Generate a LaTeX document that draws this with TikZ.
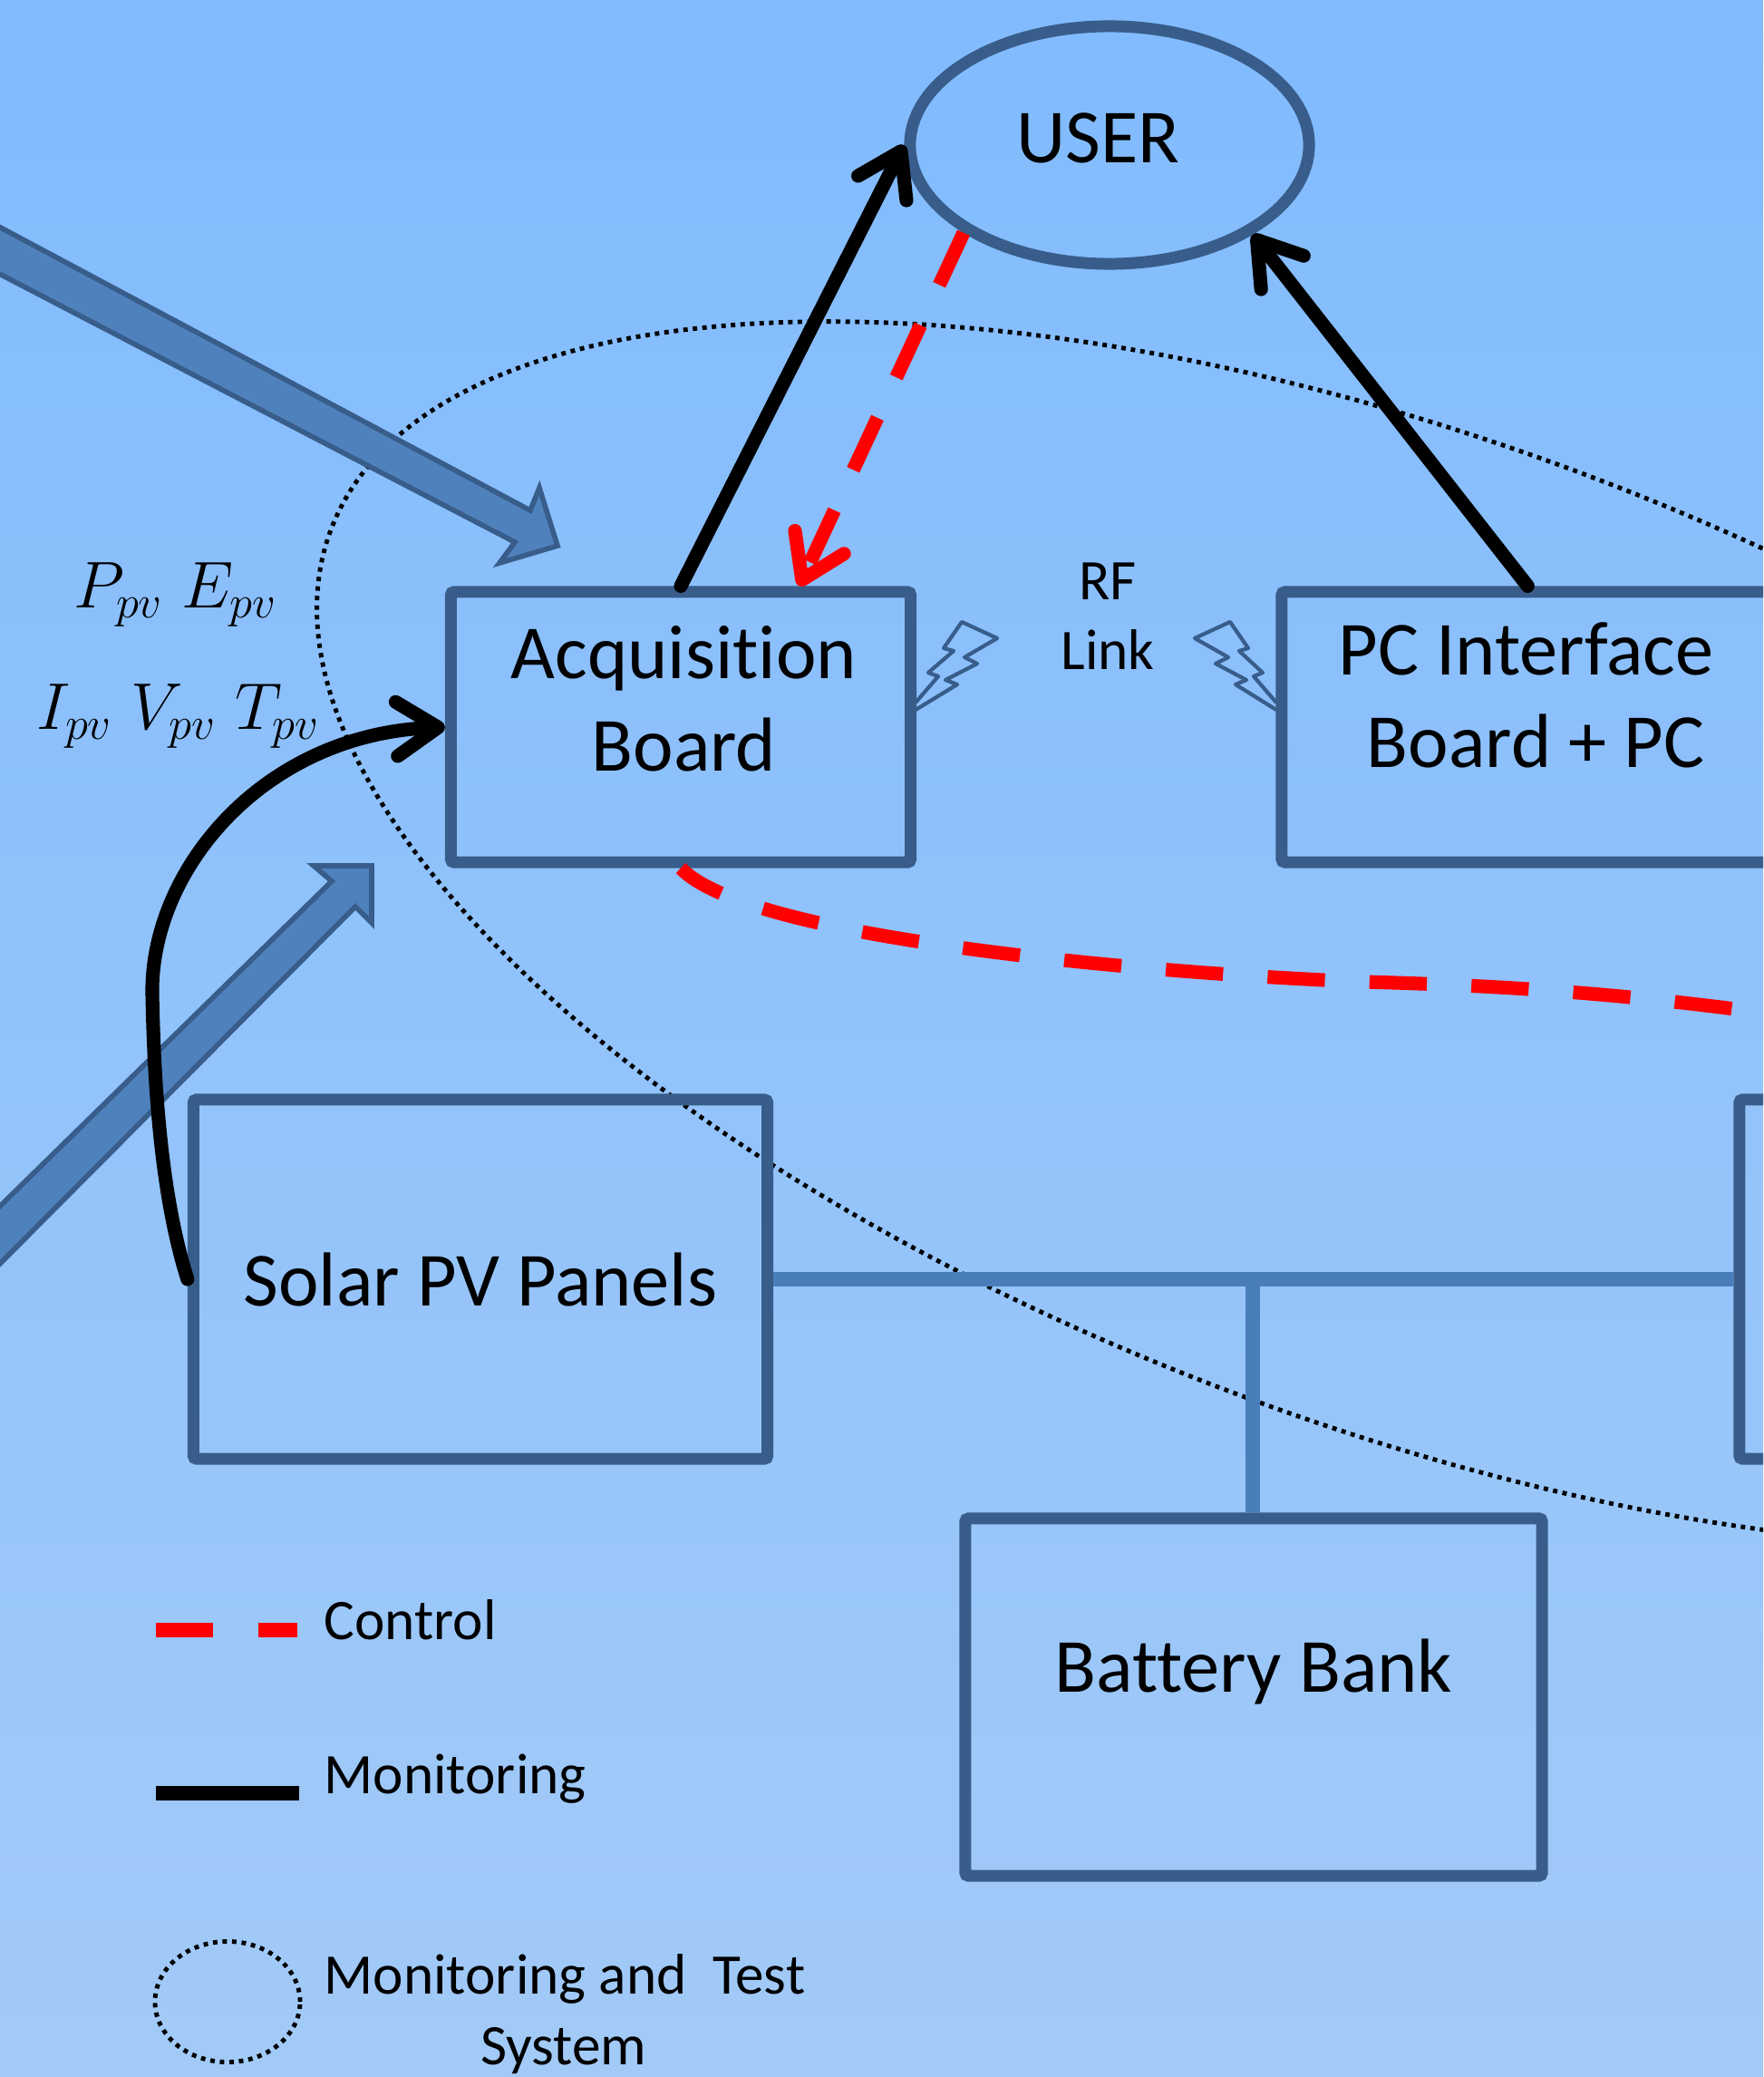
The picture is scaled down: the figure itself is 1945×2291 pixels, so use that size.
\documentclass[tikz,border=0pt]{standalone}
\usepackage{fontspec}
\setmainfont[Ligatures=NoCommon]{Carlito}
\usetikzlibrary{arrows.meta,shapes.geometric}
\definecolor{boxline}{HTML}{385D8A}
\definecolor{boxfill}{HTML}{4F81BD}
\definecolor{feedline}{HTML}{4A7EBB}
\definecolor{bgtop}{HTML}{81BBFE}
\definecolor{bgmid}{HTML}{85BDFD}
\definecolor{bgbottom}{HTML}{A2CAF7}
\begin{document}
\begin{tikzpicture}[x=0.01cm,y=-0.01cm,>={Straight Barb[length=13pt,width=17pt,round]}]
\tikzset{
  board/.style={draw=boxline,line width=3.7pt,rounded corners=1pt,inner sep=0pt,align=center,font=\fontsize{24}{29}\selectfont},
  ring/.style={draw=boxline,line width=3.7pt,shape=ellipse,inner sep=0pt,font=\fontsize{24}{29}\selectfont},
  feed/.style={draw=feedline,line width=4.55pt},
  monitor/.style={draw=black,line width=4.3pt,line cap=round},
  control/.style={draw=red,line width=4.3pt,dash pattern=on 18pt off 14pt},
  bigarrow/.style={draw=boxline,line width=1.6pt,fill=boxfill,line join=miter},
  bolt/.style={draw=boxline,line width=1.2pt,line join=round},
  sysring/.style={draw=black,line width=1.4pt,dash pattern=on 1.4pt off 1.6pt,shape=ellipse,inner sep=0pt},
  legendtext/.style={font=\fontsize{18}{22}\selectfont,anchor=west,inner sep=0pt},
  formula/.style={font=\huge,inner sep=0pt}
}
\clip (0,0) rectangle (1945,2291);
\shade[top color=bgtop,middle color=bgmid,bottom color=bgbottom] (0,0) rectangle (1945,2291);
% monitored system
\node[sysring,minimum width=25.4cm,minimum height=10.84cm,rotate=-20.5] (system) at (1555,1030) {};
% blocks
\node[board,minimum width=5.07cm,minimum height=2.98cm,text depth=18pt] (acq) at (751,802) {\hspace*{2pt}Acquisition\\\hspace*{2pt}Board};
\node[board,minimum width=5.48cm,minimum height=2.98cm,text depth=20pt] (pc) at (1688,802) {PC Interface\hspace{2.5pt}\mbox{}\\\hspace*{3.4pt}Board + PC};
\node[board,minimum width=6.33cm,minimum height=3.96cm] (solar) at (530,1411) {Solar PV Panels};
\node[board,minimum width=6.36cm,minimum height=3.94cm,text depth=20pt] (battery) at (1383,1872) {Battery Bank};
\node[board,minimum width=6cm,minimum height=3.96cm] (load) at (2219,1411) {};
\node[ring,minimum width=4.4cm,minimum height=2.62cm,text depth=4.5pt] (user) at (1224,160) {USER\hspace{7pt}\mbox{}};
% power lines
\coordinate (joint) at (1382,1412);
\draw[feed] (solar.east) -- (load.west);
\draw[feed] (joint) -- (battery.north-|joint);
% large arrows
\draw[bigarrow] (-20,240) -- (585,563) -- (595,538) -- (615,602) -- (551,621) -- (568,598) -- (-20,292) -- cycle;
\draw[bigarrow] (-20,1350) -- (366,972) -- (346,955) -- (410,955) -- (410,1018) -- (392,1000) -- (-20,1414) -- cycle;
% signal lines
\draw[monitor,->] (acq.north) -- (user.west);
\draw[monitor,->] (pc.91) -- (user.-32);
\draw[control,->] (user.-149.5) -- (acq.50);
\draw[control,dash phase=3pt] (acq.south) .. controls (830,1040) and (1300,1075) .. (1505,1083) .. controls (1650,1087) and (1800,1095) .. (2000,1125);
\draw[monitor,->] (solar.west) .. controls (178,1320) and (170,1200) .. (168,1096) .. controls (166,960) and (290,810) .. (acq.west);
% rf link
\draw[bolt] (1010,783) -- (1056,755) -- (1043,750) -- (1078,732) -- (1064,725) -- (1100,704) -- (1061,686) -- (1041,715) -- (1052,718) -- (1024,742) -- (1035,746) -- (1010,775);
\draw[bolt] (1408,783) -- (1363,755) -- (1375,750) -- (1341,732) -- (1355,725) -- (1318,704) -- (1357,686) -- (1377,715) -- (1367,718) -- (1393,742) -- (1383,746) -- (1408,775);
\node[font=\fontsize{18}{22}\selectfont,align=center,inner sep=0pt] (rflink) at (1222,680) {RF\\Link};
% measured quantities
\node[formula] (pvpower) at (194,656) {$P_{pv}\;E_{pv}$};
\node[formula] (pvstate) at (197,790) {$I_{pv}\;V_{pv}\;T_{pv}$};
% legend
\coordinate (ctrlstart) at (172,1798);
\coordinate (ctrlend) at (328,1798);
\coordinate (monstart) at (172,1978);
\coordinate (monend) at (330,1978);
\draw[draw=red,line width=4.6pt,dash pattern=on 18pt off 14pt] (ctrlstart) -- (ctrlend);
\draw[draw=black,line width=4.8pt] (monstart) -- (monend);
\node[sysring,minimum width=1.6cm,minimum height=1.33cm] (ringkey) at (251,2208) {};
\node[legendtext] (ctrltext) at (357,1787) {Control};
\node[legendtext] (montext) at (357,1962) {Monitoring};
\node[legendtext] (systext) at (357,2183) {Monitoring and\ \ Test};
\node[legendtext,anchor=center] (systext2) at (622,2262) {System};
\end{tikzpicture}
\end{document}
